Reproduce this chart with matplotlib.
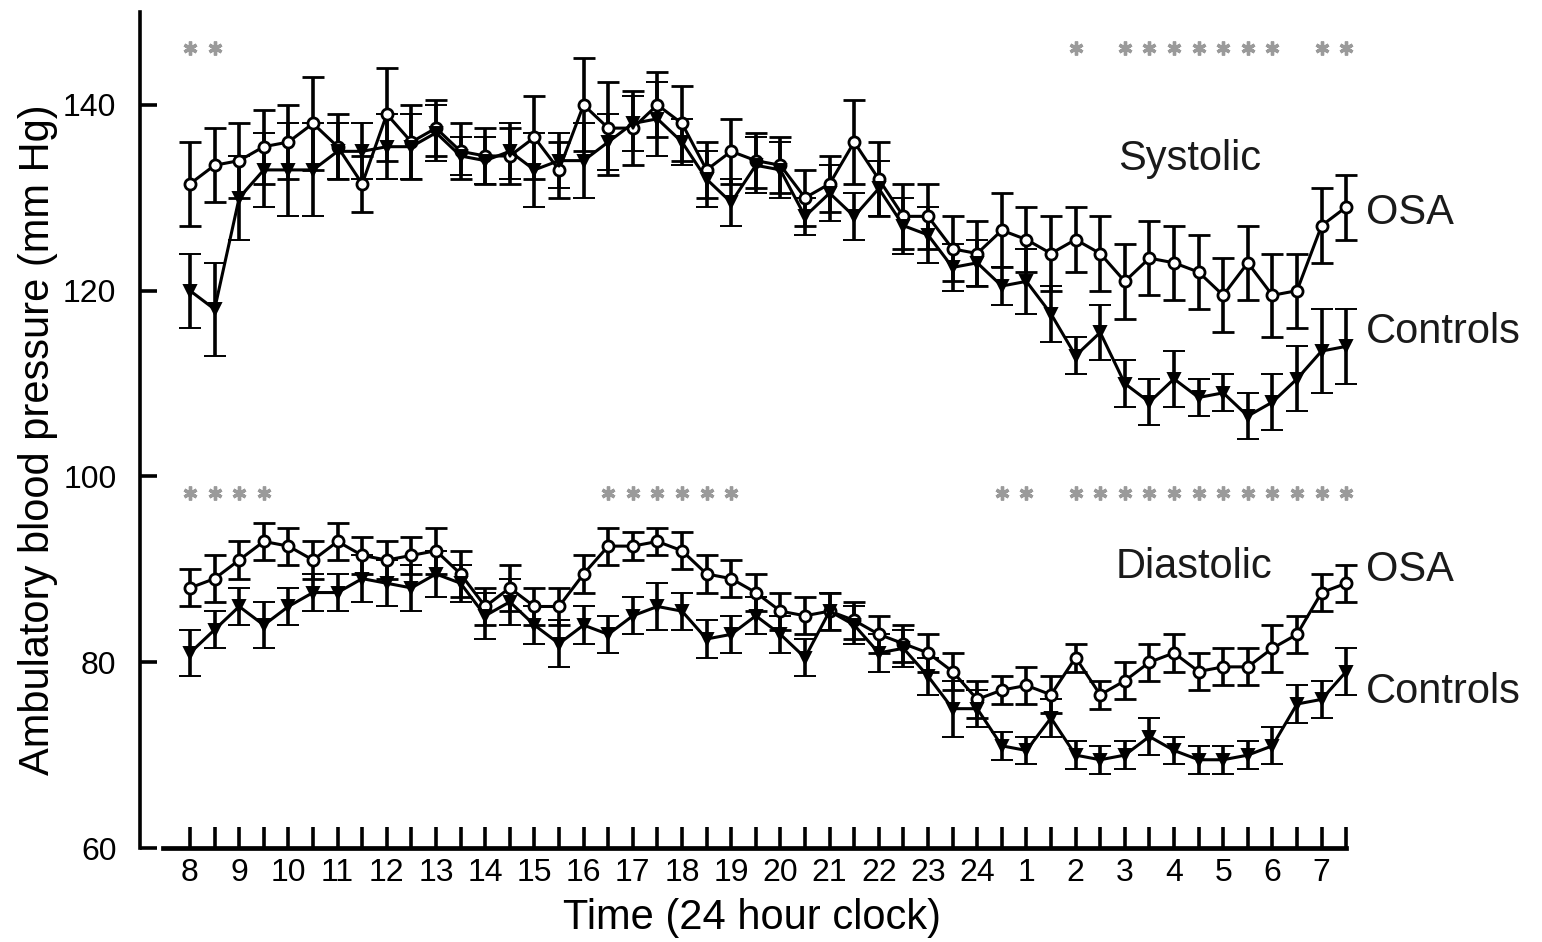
import matplotlib
matplotlib.use("Agg")
import matplotlib.pyplot as plt
import numpy as np

# ---------------- data ----------------
hour_labels = ["8", "9", "10", "11", "12", "13", "14", "15", "16", "17", "18", "19",
               "20", "21", "22", "23", "24", "1", "2", "3", "4", "5", "6", "7"]

sys_osa = [131.5, 133.5, 134, 135.5, 136, 138, 135.5, 131.5, 139, 136, 137.5, 135,
           134.5, 134.5, 136.5, 133, 140, 137.5, 137.5, 140, 138, 133, 135, 134,
           133.5, 130, 131.5, 136, 132, 128, 128, 124.5, 124, 126.5, 125.5, 124,
           125.5, 124, 121, 123.5, 123, 122, 119.5, 123, 119.5, 120, 127, 129]
sys_osa_err = [4.5, 4, 4, 4, 4, 5, 3.5, 3, 5, 4, 3, 3,
               3, 3, 4.5, 3, 5, 5, 4, 3.5, 4, 3, 3.5, 3,
               3, 3, 3, 4.5, 4, 3.5, 3.5, 3.5, 3.5, 4, 3.5, 4,
               3.5, 4, 4, 4, 4, 4, 4, 4, 4.5, 4, 4, 3.5]

sys_ctl = [120, 118, 130, 133, 133, 133, 135, 135, 135.5, 135.5, 137, 134.5,
           134, 135, 133, 134, 134, 136, 138, 138.5, 136, 132, 129.5, 133.5,
           133, 128, 130.5, 128, 131, 127, 126, 122.5, 123, 120.5, 121, 117.5,
           113, 115.5, 110, 108, 110.5, 108.5, 109, 106.5, 108, 110.5, 113.5, 114]
sys_ctl_err = [4, 5, 4.5, 4, 5, 5, 3, 3, 3.5, 3.5, 3, 2,
               2.5, 3, 4, 3, 4, 3, 3, 4, 2.5, 3, 2.5, 3,
               3, 2, 3, 2.5, 3, 3, 3, 2.5, 2.5, 2, 3.5, 3,
               2, 3, 2.5, 2.5, 3, 2, 2, 2.5, 3, 3.5, 4.5, 4]

dia_osa = [88, 89, 91, 93, 92.5, 91, 93, 91.5, 91, 91.5, 92, 89.5,
           86, 88, 86, 86, 89.5, 92.5, 92.5, 93, 92, 89.5, 89, 87.5,
           85.5, 85, 85.5, 84.5, 83, 82, 81, 79, 76, 77, 77.5, 76.5,
           80.5, 76.5, 78, 80, 81, 79, 79.5, 79.5, 81.5, 83, 87.5, 88.5]
dia_osa_err = [2, 2.5, 2, 2, 2, 2, 2, 2, 2, 2, 2.5, 2.5,
               2, 2.5, 2, 2, 2, 2, 1.5, 1.5, 2, 2, 2, 2,
               2, 2, 2, 2, 2, 2, 2, 2, 2, 1.5, 2, 2,
               1.5, 1.5, 2, 2, 2, 2, 2, 2, 2.5, 2, 2, 2]

dia_ctl = [81, 83.5, 86, 84, 86, 87.5, 87.5, 89, 88.5, 88, 89.5, 88.5,
           85, 86.5, 84, 82, 84, 83, 85, 86, 85.5, 82.5, 83, 85,
           83, 80.5, 85.5, 84, 81, 81.5, 78.5, 75, 75, 71, 70.5, 74,
           70, 69.5, 70, 72, 70.5, 69.5, 69.5, 70, 71, 75.5, 76, 79]
dia_ctl_err = [2.5, 2, 2, 2.5, 2, 2, 2, 2.5, 2.5, 2.5, 2.5, 2,
               2.5, 2.5, 2, 2.5, 2, 2, 2, 2.5, 2, 2, 2, 2,
               2, 2, 2, 2, 2, 2, 2, 3, 2, 1.5, 1.5, 2,
               1.5, 1.5, 1.5, 2, 1.5, 1.5, 1.5, 1.5, 2, 2, 2, 2.5]

# indices (half-hour slots) with significant differences
sys_sig = [0, 1, 36, 38, 39, 40, 41, 42, 43, 44, 46, 47]
dia_sig = [0, 1, 2, 3, 17, 18, 19, 20, 21, 22, 33, 34,
           36, 37, 38, 39, 40, 41, 42, 43, 44, 45, 46, 47]

# ---------------- figure ----------------
W, H = 1542, 942
fig = plt.figure(figsize=(W / 100, H / 100), dpi=100)
ax = fig.add_axes([140 / W, (H - 848) / H, (1540 - 140) / W, (848 - 12) / H])

x = np.arange(len(sys_osa))
x_left = (140 - 190) / 24.6
x_right = (1540 - 190) / 24.6
ax.set_xlim(x_left, x_right)
ax.set_ylim(60, 150)

eb_kw = dict(color="black", elinewidth=2.6, capsize=8, capthick=2.8, lw=2.2, zorder=3)

ax.errorbar(x, sys_osa, yerr=sys_osa_err, marker="o", ms=8, mfc="white", mec="black",
            mew=2.0, **eb_kw)
ax.errorbar(x, sys_ctl, yerr=sys_ctl_err, marker="v", ms=8.5, mfc="black", mec="black",
            mew=1.4, **eb_kw)
ax.errorbar(x, dia_osa, yerr=dia_osa_err, marker="o", ms=8, mfc="white", mec="black",
            mew=2.0, **eb_kw)
ax.errorbar(x, dia_ctl, yerr=dia_ctl_err, marker="v", ms=8.5, mfc="black", mec="black",
            mew=1.4, **eb_kw)

star_kw = dict(linestyle="none", marker=(6, 2, 0), ms=10, mew=2.4, color="#9a9a9a", zorder=2)
ax.plot(sys_sig, [146.1] * len(sys_sig), **star_kw)
ax.plot(dia_sig, [98.2] * len(dia_sig), **star_kw)

# spines
for s in ("top", "right"):
    ax.spines[s].set_visible(False)
ax.spines["left"].set_linewidth(2.6)
ax.spines["bottom"].set_linewidth(3.4)
ax.spines["bottom"].set_bounds(-1.1, 47)

# ticks
ax.set_xticks(x)
labels = []
for i in x:
    labels.append(hour_labels[i // 2] if i % 2 == 0 else "")
ax.set_xticklabels(labels, family="Liberation Sans", fontsize=23)
ax.tick_params(axis="x", direction="in", length=15, width=2.6, pad=7)
ax.set_yticks([60, 80, 100, 120, 140])
ax.set_yticklabels(["60", "80", "100", "120", "140"], family="Liberation Sans", fontsize=23)
ax.tick_params(axis="y", direction="in", length=12, width=2.6, pad=17)

txt_kw = dict(family="Liberation Sans", fontsize=30, color="#1a1a1a")
ax.text(40.65, 134.2, "Systolic", ha="center", va="center", **txt_kw)
ax.text(47.8, 128.4, "OSA", ha="left", va="center", **txt_kw)
ax.text(47.8, 115.5, "Controls", ha="left", va="center", **txt_kw)
ax.text(40.8, 90.3, "Diastolic", ha="center", va="center", **txt_kw)
ax.text(47.8, 89.9, "OSA", ha="left", va="center", **txt_kw)
ax.text(47.8, 76.8, "Controls", ha="left", va="center", **txt_kw)

fig.text(752 / W, (H - 918) / H, "Time (24 hour clock)", ha="center", va="center",
         family="Liberation Sans", fontsize=30)
fig.text(38 / W, (H - 440) / H, "Ambulatory blood pressure (mm Hg)", ha="center",
         va="center", rotation=90, family="Liberation Sans", fontsize=30)

fig.savefig("out.png", dpi=100)
